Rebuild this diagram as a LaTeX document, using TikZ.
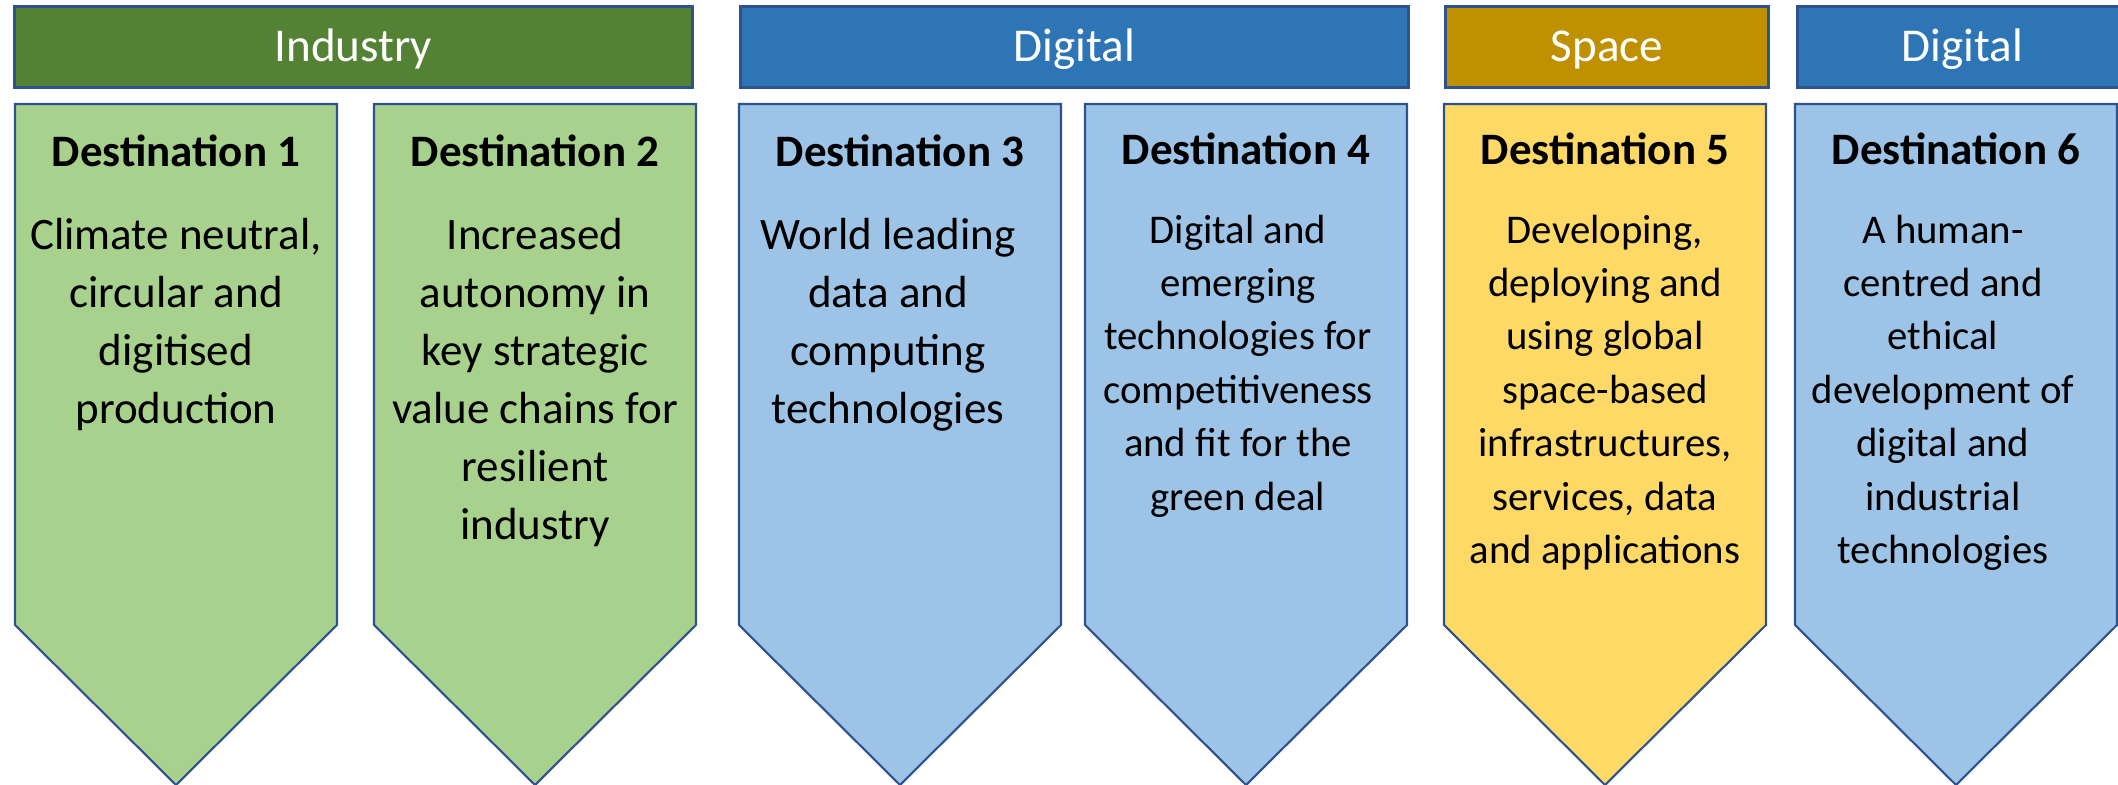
\documentclass[tikz,border=0pt]{standalone}
\usepackage{fontspec}
\setmainfont{Carlito}
\definecolor{edgeblue}{HTML}{2F528F}
\definecolor{indgreen}{HTML}{548235}
\definecolor{digblue}{HTML}{2E75B6}
\definecolor{spacegold}{HTML}{BF9000}
\definecolor{lightgreen}{HTML}{A9D18E}
\definecolor{lightblue}{HTML}{9DC3E6}
\definecolor{lightgold}{HTML}{FFD966}
\def \destshape#1{ (#1,6.81) -- ++(3.22,0) -- ++(0,-5.21) -- ++(-1.61,-1.60) -- ++(-1.61,1.60) -- cycle }
\tikzset{
  head/.style={draw=edgeblue, line width=0.8pt, text=white, anchor=north west,
    inner sep=0pt, minimum height=0.815cm, text height=9.4pt, text depth=1.5pt,
    font=\fontsize{13.4}{16}\selectfont},
  desttitle/.style={anchor=base, inner sep=0pt, font=\fontsize{12.8}{16}\selectfont\bfseries},
  destbody/.style={anchor=north, inner sep=0pt, align=center, font=\fontsize{12.8}{16.5}\selectfont},
  destsmall/.style={destbody, font=\fontsize{11.6}{15.2}\selectfont},
}

\begin{document}
\begin{tikzpicture}

    \useasboundingbox (0,0) rectangle (21.18,7.85);

    \node[head, fill=indgreen, minimum width=6.78cm] (industry) at (0.13,7.80) {Industry};
    \node[head, fill=digblue, minimum width=6.68cm] (digitalA) at (7.39,7.80) {Digital};
    \node[head, fill=spacegold, minimum width=3.23cm] (space) at (14.44,7.80) {Space};
    \node[head, fill=digblue, minimum width=3.30cm] (digitalB) at (17.96,7.80) {Digital};

    \filldraw[fill=lightgreen, draw=edgeblue, line width=0.6pt] \destshape{0.15};
    \filldraw[fill=lightgreen, draw=edgeblue, line width=0.6pt] \destshape{3.74};
    \filldraw[fill=lightblue, draw=edgeblue, line width=0.6pt] \destshape{7.39};
    \filldraw[fill=lightblue, draw=edgeblue, line width=0.6pt] \destshape{10.85};
    \filldraw[fill=lightgold, draw=edgeblue, line width=0.6pt] \destshape{14.44};
    \filldraw[fill=lightblue, draw=edgeblue, line width=0.6pt] \destshape{17.95};

    \node[desttitle] (t1) at (1.76,6.18) {Destination 1};
    \node[desttitle] (t2) at (5.35,6.18) {Destination 2};
    \node[desttitle] (t3) at (9.00,6.18) {Destination 3};
    \node[desttitle] (t4) at (12.46,6.20) {Destination 4};
    \node[desttitle] (t5) at (16.05,6.20) {Destination 5};
    \node[desttitle] (t6) at (19.56,6.20) {Destination 6};

    \node[destbody] (b1) at (1.76,5.67) {Climate neutral,\\circular and\\digitised\\production};
    \node[destbody] (b2) at (5.35,5.67) {Increased\\autonomy in\\key strategic\\value chains for\\resilient\\industry};
    \node[destbody] (b3) at (8.88,5.67) {World leading\\data and\\computing\\technologies};
    \node[destsmall] (b4) at (12.38,5.71) {Digital and\\emerging\\technologies for\\competitiveness\\and fit for the\\green deal};
    \node[destsmall] (b5) at (16.05,5.71) {Developing,\\deploying and\\using global\\space-based\\infrastructures,\\services, data\\and applications};
    \node[destsmall] (b6) at (19.43,5.71) {A human-\\centred and\\ethical\\development of\\digital and\\industrial\\technologies};

  \end{tikzpicture}
\end{document}
